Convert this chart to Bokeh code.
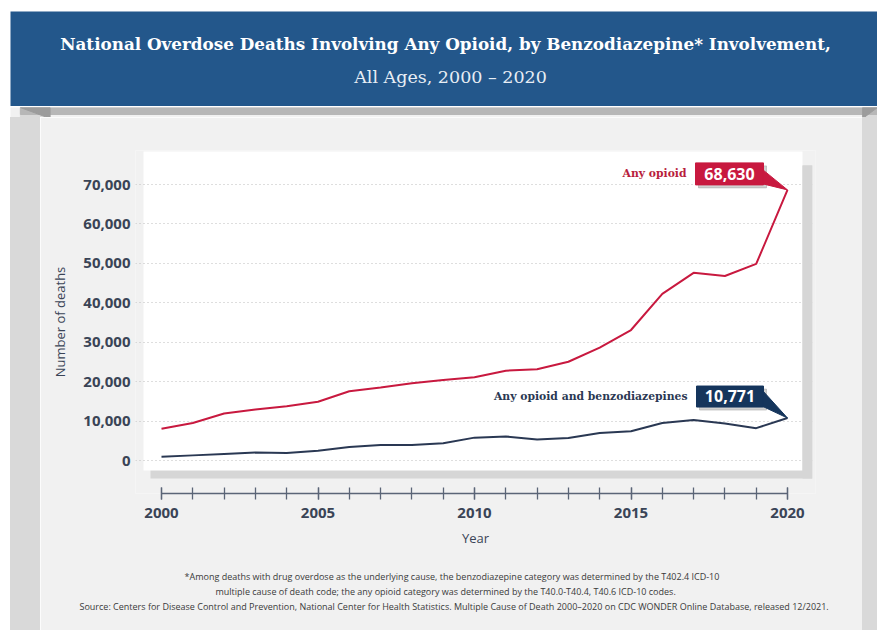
from bokeh.plotting import figure
from bokeh.layouts import column, row
from bokeh.models import (Label, Title, BoxAnnotation, NumeralTickFormatter,
                          SingleIntervalTicker, FixedTicker, Range1d, Div)
from bokeh.embed import file_html
from bokeh.resources import INLINE

# ---------------- data ----------------
years = list(range(2000, 2021))
any_opioid = [8050, 9496, 11920, 12940, 13756, 14918, 17545, 18516, 19582, 20422,
              21089, 22784, 23166, 25052, 28647, 33091, 42249, 47600, 46802, 49860, 68630]
opioid_benzo = [950, 1300, 1650, 2000, 1900, 2500, 3400, 3900, 3900, 4400,
                5800, 6100, 5300, 5700, 7000, 7400, 9500, 10300, 9400, 8200, 10771]
y_ticks = [0, 10000, 20000, 30000, 40000, 50000, 60000, 70000]
series_names = ["Any opioid", "Any opioid and benzodiazepines"]

title_line1 = "National Overdose Deaths Involving Any Opioid, by Benzodiazepine* Involvement,"
title_line2 = "All Ages, 2000 \u2013 2020"
foot1 = ("*Among deaths with drug overdose as the underlying cause, the benzodiazepine "
         "category was determined by the T402.4 ICD-10")
foot2 = ("multiple cause of death code; the any opioid category was determined by the "
         "T40.0-T40.4, T40.6 ICD-10 codes.")
foot3 = ("Source: Centers for Disease Control and Prevention, National Center for Health "
         "Statistics. Multiple Cause of Death 2000\u20132020 on CDC WONDER Online Database, "
         "released 12/2021.")

# ---------------- style ----------------
BLUE = "#23578b"
PANEL = "#f1f1f1"
STRIP = "#d9d9d9"
SHADOW = "#d6d6d6"
RED = "#c8193f"
RED_TXT = "#b81d3c"
NAVY = "#2a3853"
NAVY_BOX = "#15355c"
AX_TXT = "#3a4456"
AX_LINE = "#5b6577"

W = 877
LEFT_W, RIGHT_W = 40, 15
MAIN_W = W - LEFT_W - RIGHT_W
HEAD_H, DECOR_H, MAIN_H = 106, 11, 513


def blank(width, height, xr, yr, l=0, t=0, border="white"):
    f = figure(width=width, height=height, x_range=Range1d(*xr), y_range=Range1d(*yr),
               output_backend="svg", toolbar_location=None,
               x_axis_type=None, y_axis_type=None,
               min_border_left=l, min_border_right=0,
               min_border_top=t, min_border_bottom=0)
    f.outline_line_color = None
    f.grid.visible = False
    f.border_fill_color = border
    return f


# ---------------- header ----------------
header = blank(W, HEAD_H, (0, W - 10), (0, 95), l=10, t=11)
header.background_fill_color = BLUE
header.add_layout(Label(x=435, y=63, text=title_line1, text_align="center",
                        text_baseline="middle", text_color="white",
                        text_font="DejaVu Serif", text_font_style="bold",
                        text_font_size="16.8px"))
header.add_layout(Label(x=440, y=30, text=title_line2, text_align="center",
                        text_baseline="middle", text_color="#e8eef5",
                        text_font="DejaVu Serif", text_font_size="17.5px"))

# ---------------- fold strip under header ----------------
decor = blank(W, DECOR_H, (0, W), (0, DECOR_H))
decor.background_fill_color = PANEL
decor.quad(left=[10], right=[LEFT_W], bottom=[0], top=[11], color=STRIP)
decor.quad(left=[W - RIGHT_W], right=[W], bottom=[0], top=[11], color=STRIP)
decor.quad(left=[10], right=[W], bottom=[4], top=[11], color="#b7b7b7")
decor.patch([10, LEFT_W, LEFT_W], [11, 11, 0], color="#9c9c9c")
decor.patch([W - RIGHT_W, W, W - RIGHT_W], [11, 11, 0], color="#9c9c9c")

# ---------------- side strips ----------------
left = Div(text="", width=LEFT_W - 10, height=MAIN_H, margin=(0, 0, 0, 10),
           styles={"background-color": STRIP})
right = Div(text="", width=RIGHT_W, height=MAIN_H, margin=(0, 0, 0, 0),
            styles={"background-color": STRIP})

# ---------------- main chart ----------------
PAGE_X0 = LEFT_W                  # page x of main figure
PAGE_Y0 = HEAD_H + DECOR_H        # page y of main figure
X2000, PXY = 161.0, 31.3          # page px of year 2000, px per year
Y0, PXD = 460.0, 276.0 / 70000.0  # page px of 0 deaths, px per death
FR_L, FR_R, FR_T, FR_B = 135, 815, 150, 493


def xd(px):
    return 2000 + (px - X2000) / PXY


def yd(py):
    return (Y0 - py) / PXD


p = figure(width=MAIN_W, height=MAIN_H,
           x_range=Range1d(xd(FR_L), xd(FR_R)), y_range=Range1d(yd(FR_B), yd(FR_T)),
           output_backend="svg", toolbar_location=None,
           min_border_left=FR_L - PAGE_X0, min_border_right=PAGE_X0 + MAIN_W - FR_R,
           min_border_top=FR_T - PAGE_Y0, min_border_bottom=PAGE_Y0 + MAIN_H - FR_B)
p.background_fill_color = PANEL
p.border_fill_color = PANEL
p.outline_line_color = None

# white plotting card with drop shadow
p.add_layout(BoxAnnotation(left=xd(150), right=xd(812), top=yd(165), bottom=yd(478),
                           fill_color=SHADOW, fill_alpha=1, line_color=None, level="image"))
p.add_layout(BoxAnnotation(left=xd(143), right=xd(802), top=yd(151), bottom=yd(470),
                           fill_color="white", fill_alpha=1, line_color=None, level="image"))

# axes
xa = p.xaxis[0]
xa.ticker = SingleIntervalTicker(interval=5, num_minor_ticks=5)
xa.bounds = (years[0], years[-1])
xa.axis_line_color = AX_LINE
xa.axis_line_width = 1.5
xa.major_tick_line_color = AX_LINE
xa.minor_tick_line_color = AX_LINE
xa.major_tick_line_width = 1.3
xa.minor_tick_line_width = 1.3
xa.major_tick_in = 6
xa.major_tick_out = 6
xa.minor_tick_in = 6
xa.minor_tick_out = 6
xa.major_label_standoff = 8
xa.major_label_text_font = "Open Sans"
xa.major_label_text_font_style = "bold"
xa.major_label_text_font_size = "15px"
xa.major_label_text_color = AX_TXT
xa.axis_label = "Year"
xa.axis_label_text_font = "Open Sans"
xa.axis_label_text_font_style = "normal"
xa.axis_label_text_font_size = "13px"
xa.axis_label_text_color = AX_TXT
xa.axis_label_standoff = 8

ya = p.yaxis[0]
ya.ticker = FixedTicker(ticks=y_ticks)
ya.formatter = NumeralTickFormatter(format="0,0")
ya.axis_line_color = None
ya.major_tick_line_color = None
ya.minor_tick_line_color = None
ya.major_tick_in = 0
ya.major_tick_out = 0
ya.minor_tick_in = 0
ya.minor_tick_out = 0
ya.major_label_standoff = 5
ya.major_label_text_font = "Open Sans"
ya.major_label_text_font_style = "bold"
ya.major_label_text_font_size = "15px"
ya.major_label_text_color = AX_TXT
ya.axis_label = "Number of deaths"
ya.axis_label_text_font = "Open Sans"
ya.axis_label_text_font_style = "normal"
ya.axis_label_text_font_size = "13px"
ya.axis_label_text_color = AX_TXT
ya.axis_label_standoff = 11

p.xgrid.visible = False
p.ygrid.grid_line_color = "#bdbdbd"
p.ygrid.grid_line_dash = "1 3"
p.ygrid.grid_line_width = 1.2

# cover the grid over the right shadow / panel
p.add_layout(BoxAnnotation(left=xd(802), right=xd(812), top=yd(165), bottom=yd(478),
                           fill_color=SHADOW, fill_alpha=1, line_color=None, level="underlay"))
p.add_layout(BoxAnnotation(left=xd(812), right=xd(FR_R), top=yd(FR_T), bottom=yd(FR_B),
                           fill_color=PANEL, fill_alpha=1, line_color=None, level="underlay"))

# data lines
p.line(years, any_opioid, line_color=RED, line_width=2)
p.line(years, opioid_benzo, line_color=NAVY, line_width=2)


def callout(yval, name, color, txt_color, box, tail, txt_dy):
    """box = (dx0, dx1, dy0, dy1) pixel offsets from the last data point (dy up)."""
    xv = years[-1]
    dx0, dx1, dy0, dy1 = box
    p.quad(left=[xv + (dx0 + 3) / PXY], right=[xv + (dx1 + 3) / PXY],
           bottom=[yval + (dy0 - 3) / PXD], top=[yval + (dy1 - 3) / PXD],
           color="#9a9a9a", alpha=0.45)
    p.quad(left=[xv + dx0 / PXY], right=[xv + dx1 / PXY],
           bottom=[yval + dy0 / PXD], top=[yval + dy1 / PXD], color=color)
    p.patch([xv + dx / PXY for dx, dy in tail], [yval + dy / PXD for dx, dy in tail],
            color=color)
    p.add_layout(Label(x=xv, y=yval, x_offset=(dx0 + dx1) / 2, y_offset=txt_dy,
                       text=f"{yval:,}", text_align="center", text_baseline="middle",
                       text_font="Open Sans", text_font_style="bold",
                       text_font_size="16px", text_color="white"))
    p.add_layout(Label(x=xv, y=yval, x_offset=dx0 - 9, y_offset=txt_dy, text=name,
                       text_align="right", text_baseline="middle",
                       text_font="DejaVu Serif", text_font_style="bold",
                       text_font_size="10.8px", text_color=txt_color))


callout(any_opioid[-1], series_names[0], RED, RED_TXT,
        (-92, -24, 5, 27), [(-24.5, 20), (-24.5, 6), (0, 0)], 16)
callout(opioid_benzo[-1], series_names[1], NAVY_BOX, NAVY,
        (-91, -24, 11, 32), [(-24.5, 27), (-24.5, 11.5), (0, 0)], 22)

# ---------------- footnotes ----------------
p.add_layout(Title(text=" ", text_font_size="1px", standoff=15), "below")
for txt, off in ((foot1, 49), (foot2, 80), (foot3, -56)):
    p.add_layout(Title(text=txt, align="left", offset=off, standoff=0,
                       text_font="Open Sans", text_font_style="normal",
                       text_font_size="9px", text_color="#3a3a3a"), "below")

layout = column(header, decor, row(left, p, right, spacing=0), spacing=0)

open("out.html", "w").write(file_html(layout, INLINE))
